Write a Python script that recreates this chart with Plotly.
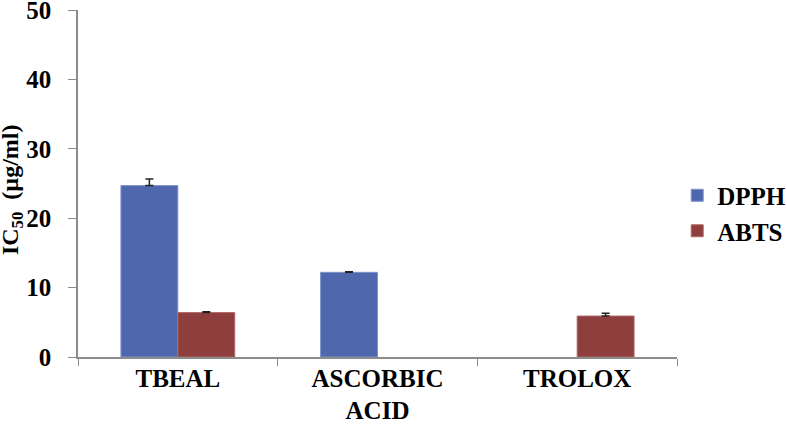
import plotly.graph_objects as go

categories = ["TBEAL", "ASCORBIC<br>ACID", "TROLOX"]
dpph = [24.7, 12.2, None]
dpph_err = [0.95, 0.1, 0]
abts = [6.4, None, 5.9]
abts_err = [0.12, 0, 0.4]

font_family = "Liberation Serif"

fig = go.Figure()
fig.add_trace(go.Bar(
    x=categories, y=dpph, name="DPPH",
    marker=dict(color="#4F67AD", line=dict(color="#7F93CC", width=1)),
    error_y=dict(type="data", array=dpph_err, arrayminus=[0, 0, 0], symmetric=False,
                 color="#222222", thickness=1.5, width=4),
))
fig.add_trace(go.Bar(
    x=categories, y=abts, name="ABTS",
    marker=dict(color="#8E3F3D", line=dict(color="#B06866", width=1)),
    error_y=dict(type="data", array=abts_err, arrayminus=[0, 0, 0], symmetric=False,
                 color="#222222", thickness=1.5, width=4),
))

fig.update_layout(
    width=787, height=424,
    margin=dict(l=78, r=110, t=10, b=67),
    paper_bgcolor="white", plot_bgcolor="white",
    barmode="group", bargap=0.43, bargroupgap=0,
    font=dict(family=font_family, color="black"),
    legend=dict(
        xref="container", yref="container",
        x=0.8605, y=0.4976, xanchor="left", yanchor="middle",
        font=dict(size=25, family=font_family, color="black", weight="bold"),
        itemwidth=30,
    ),
    xaxis=dict(
        automargin=False,
        showline=True, linecolor="#8c8c8c", linewidth=1.5,
        ticks="outside", tickson="boundaries", ticklen=7, tickcolor="#8c8c8c",
        ticklabelstandoff=-2,
        tickfont=dict(size=25, family=font_family, color="black", weight="bold"),
        showgrid=False,
    ),
    yaxis=dict(
        automargin=False,
        range=[0, 50], dtick=10,
        showline=True, linecolor="#8c8c8c", linewidth=1.5,
        ticks="outside", ticklen=8, tickcolor="#8c8c8c",
        ticklabeloverflow="allow", ticklabelstandoff=12,
        tickfont=dict(size=25, family=font_family, color="black", weight="bold"),
        showgrid=False, zeroline=False,
    ),
    annotations=[dict(
        text="IC<sub>50</sub>  (µg/ml)", xref="paper", yref="paper",
        x=-0.109, y=0.483, xanchor="center", yanchor="middle",
        textangle=-90, showarrow=False,
        font=dict(size=24, family=font_family, color="black", weight="bold"),
    )],
)

fig.write_html("out.html", config={"displayModeBar": False},
               post_script="document.body.style.margin='0';")
